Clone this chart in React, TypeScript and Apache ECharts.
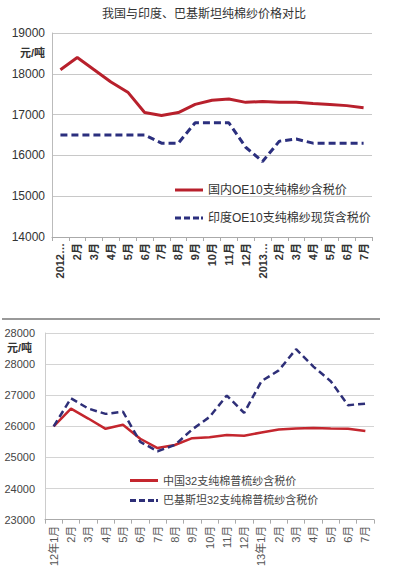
import React, { useEffect, useRef } from "react";
import * as echarts from "echarts";

const title = "我国与印度、巴基斯坦纯棉纱价格对比";
const unitLabel = "元/吨";

const topCategories = ["2012…", "2月", "3月", "4月", "5月", "6月", "7月", "8月", "9月", "10月", "11月", "12月", "2013…", "2月", "3月", "4月", "5月", "6月", "7月"];
const topSeriesNames = ["国内OE10支纯棉纱含税价", "印度OE10支纯棉纱现货含税价"];
const topDomestic = [18100, 18400, 18100, 17800, 17550, 17050, 16980, 17050, 17250, 17350, 17380, 17300, 17320, 17300, 17300, 17270, 17250, 17220, 17170];
const topIndia = [16500, 16500, 16500, 16500, 16500, 16500, 16300, 16300, 16800, 16800, 16800, 16200, 15850, 16350, 16400, 16300, 16300, 16300, 16300];

const bottomCategories = ["12年1月", "2月", "3月", "4月", "5月", "6月", "7月", "8月", "9月", "10月", "11月", "12月", "13年1月", "2月", "3月", "4月", "5月", "6月", "7月"];
const bottomSeriesNames = ["中国32支纯棉普梳纱含税价", "巴基斯坦32支纯棉普梳纱含税价"];
const bottomChina = [26000, 26570, 26250, 25920, 26050, 25600, 25300, 25400, 25620, 25650, 25720, 25700, 25800, 25900, 25930, 25950, 25930, 25920, 25850];
const bottomPakistan = [26000, 26900, 26570, 26400, 26470, 25500, 25200, 25400, 25900, 26300, 26990, 26430, 27450, 27800, 28480, 27920, 27450, 26680, 26730];
// tick labels as printed in the source (top one repeats "28000")
const bottomTickValues = [23000, 24000, 25000, 26000, 27000, 28000, 29000];
const bottomTickLabels = ["23000", "24000", "25000", "26000", "27000", "28000", "28000"];

const FONT = "'Liberation Sans', Arial, 'Noto Sans CJK SC', sans-serif";
const RED = "#b8202c";
const NAVY = "#2b2f7e";
const SOLID_ICON = "path://M0,0H28V3H0Z";
const DASH_ICON = "path://M0,0H6V3H0Z M9,0H15V3H9Z M18,0H24V3H18Z M26,0H28V3H26Z";

export default function App() {
  const ref = useRef<HTMLDivElement>(null);
  useEffect(() => {
    document.body.style.margin = "0";
    const chart = echarts.init(ref.current!, undefined, { renderer: "svg" });
    chart.setOption({
      animation: false,
      backgroundColor: "#ffffff",
      textStyle: { fontFamily: FONT },
      grid: [
        { left: 52, right: 21, top: 33, height: 204 },
        { left: 45, right: 19, top: 333, height: 188 },
      ],
      xAxis: [
        {
          type: "category",
          gridIndex: 0,
          data: topCategories,
          boundaryGap: true,
          axisLine: { lineStyle: { color: "#aaaaaa" } },
          axisTick: { show: true, length: 4, lineStyle: { color: "#aaaaaa" } },
          axisLabel: { rotate: 90, interval: 0, fontSize: 11, color: "#333", fontWeight: "bold", margin: 6, fontFamily: FONT },
        },
        {
          type: "category",
          gridIndex: 1,
          data: bottomCategories,
          boundaryGap: true,
          axisLine: { lineStyle: { color: "#aaaaaa" } },
          axisTick: { show: true, length: 4, lineStyle: { color: "#aaaaaa" } },
          axisLabel: { rotate: 90, interval: 0, fontSize: 11, color: "#555", margin: 6, fontFamily: FONT },
        },
      ],
      yAxis: [
        {
          type: "value",
          gridIndex: 0,
          min: 14000,
          max: 19000,
          interval: 1000,
          axisLine: { show: true, lineStyle: { color: "#bbbbbb" } },
          axisTick: { show: false },
          splitLine: { lineStyle: { color: "#c8c8c8" } },
          axisLabel: { fontSize: 12, color: "#333", margin: 7, fontFamily: FONT, formatter: (v: number) => String(v) },
        },
        {
          type: "value",
          gridIndex: 1,
          min: 23000,
          max: 29000,
          interval: 1000,
          axisLine: { show: true, lineStyle: { color: "#cccccc" } },
          axisTick: { show: false },
          splitLine: { lineStyle: { color: "#d4d4d4" } },
          axisLabel: {
            fontSize: 11,
            color: "#444",
            margin: 10,
            fontFamily: FONT,
            formatter: (v: number) => {
              const i = bottomTickValues.indexOf(v);
              return i >= 0 ? bottomTickLabels[i] : String(v);
            },
          },
        },
      ],
      legend: [
        {
          data: [
            { name: topSeriesNames[0], icon: SOLID_ICON },
            { name: topSeriesNames[1], icon: DASH_ICON },
          ],
          orient: "vertical",
          left: 170,
          top: 179,
          itemWidth: 28,
          itemHeight: 14,
          itemGap: 16,
          textStyle: { fontSize: 12, color: "#333", fontFamily: FONT },
          selectedMode: false,
        },
        {
          data: [
            { name: bottomSeriesNames[0], icon: SOLID_ICON },
            { name: bottomSeriesNames[1], icon: DASH_ICON },
          ],
          orient: "vertical",
          left: 125,
          top: 470,
          itemWidth: 28,
          itemHeight: 14,
          itemGap: 9,
          textStyle: { fontSize: 11, color: "#444", fontFamily: FONT },
          selectedMode: false,
        },
      ],
      graphic: [
        { type: "text", x: 204, y: 8, style: { text: title, fill: "#333", fontSize: 12, fontFamily: FONT, textAlign: "center" } },
        { type: "text", x: 20, y: 47, style: { text: unitLabel, fill: "#333", fontSize: 11, fontWeight: "bold", fontFamily: FONT } },
        { type: "text", x: 7, y: 342, style: { text: unitLabel, fill: "#333", fontSize: 11, fontWeight: "bold", fontFamily: FONT } },
        { type: "line", shape: { x1: 2, y1: 319, x2: 380, y2: 319 }, style: { stroke: "#777", lineWidth: 1.5 } },
      ],
      series: [
        {
          name: topSeriesNames[0], type: "line", xAxisIndex: 0, yAxisIndex: 0, data: topDomestic,
          symbol: "none", color: RED, lineStyle: { color: RED, width: 3 },
        },
        {
          name: topSeriesNames[1], type: "line", xAxisIndex: 0, yAxisIndex: 0, data: topIndia,
          symbol: "none", color: NAVY, lineStyle: { color: NAVY, width: 3, type: [7, 4] },
        },
        {
          name: bottomSeriesNames[0], type: "line", xAxisIndex: 1, yAxisIndex: 1, data: bottomChina,
          symbol: "none", color: "#c4262e", lineStyle: { color: "#c4262e", width: 2.5 },
        },
        {
          name: bottomSeriesNames[1], type: "line", xAxisIndex: 1, yAxisIndex: 1, data: bottomPakistan,
          symbol: "none", color: "#2e2f78", lineStyle: { color: "#2e2f78", width: 2.5, type: [7, 4] },
        },
      ],
    });
    return () => chart.dispose();
  }, []);
  return <div ref={ref} style={{ position: "absolute", left: 0, top: 0, width: 393, height: 569 }} />;
}
